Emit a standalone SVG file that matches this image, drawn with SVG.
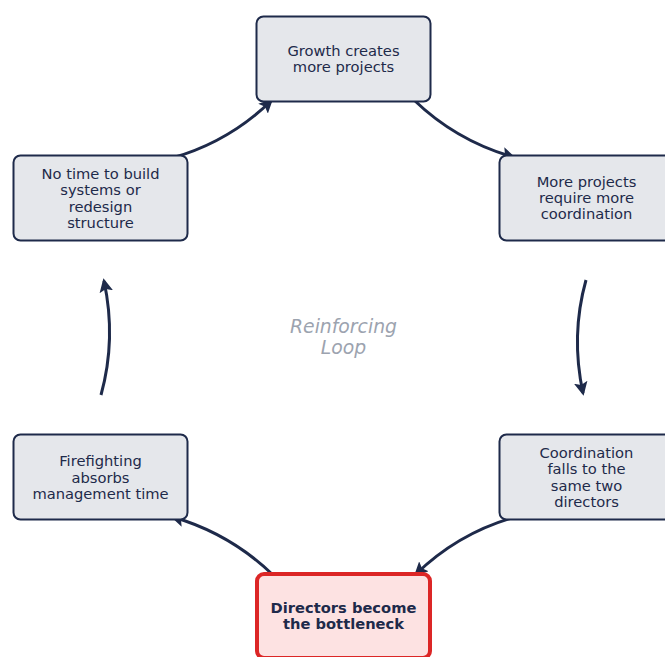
<svg xmlns="http://www.w3.org/2000/svg" width="665" height="657" viewBox="0 0 665 657">
<style>
.box{fill:#e5e7eb;stroke:#1e2a4a;stroke-width:2}
.hot{fill:#fde2e2;stroke:#dc2626;stroke-width:4}
.t{font-family:"DejaVu Sans",sans-serif;font-size:14.7px;fill:#1e2a4a;text-anchor:middle}
.b{font-weight:bold}
.c{font-family:"DejaVu Sans",sans-serif;font-size:18.8px;font-style:italic;fill:#9ca3af;text-anchor:middle}
.e{fill:none;stroke:#1e2a4a;stroke-width:3;marker-end:url(#ah)}
</style>
<defs>
<marker id="ah" viewBox="0 0 10 10" refX="8" refY="5" markerWidth="4.6" markerHeight="4.6" orient="auto" markerUnits="strokeWidth">
<path d="M0,0 L10,5 L0,10 L2,5 z" fill="#1e2a4a"/>
</marker>
</defs>
<rect width="665" height="657" fill="#ffffff"/>
<g id="connectors">
<path class="e" d="M414,100 Q456,140.6 513,157"/>
<path class="e" d="M586,280 Q570.5,335.6 583,393"/>
<path class="e" d="M515,517 Q458.6,532.8 416,574"/>
<path class="e" d="M273,575 Q230.6,533.9 173,517"/>
<path class="e" d="M101,395 Q116.5,338.9 104,281"/>
<path class="e" d="M172,158 Q228.4,142.2 271,101"/>
</g>
<g id="n1">
<rect class="box" x="256.5" y="16.5" width="174" height="85" rx="7"/>
<text class="t" x="343.5" y="56">Growth creates</text>
<text class="t" x="343.5" y="72">more projects</text>
</g>
<g id="n2">
<rect class="box" x="499.5" y="155.5" width="174" height="85" rx="7"/>
<text class="t" x="586.5" y="187">More projects</text>
<text class="t" x="586.5" y="203">require more</text>
<text class="t" x="586.5" y="219">coordination</text>
</g>
<g id="n3">
<rect class="box" x="499.5" y="434.5" width="174" height="85" rx="7"/>
<text class="t" x="586.5" y="457.5">Coordination</text>
<text class="t" x="586.5" y="474">falls to the</text>
<text class="t" x="586.5" y="490.5">same two</text>
<text class="t" x="586.5" y="507">directors</text>
</g>
<g id="n4">
<rect class="hot" x="257" y="574" width="173" height="84" rx="7"/>
<text class="t b" x="343.5" y="613">Directors become</text>
<text class="t b" x="343.5" y="629">the bottleneck</text>
</g>
<g id="n5">
<rect class="box" x="13.5" y="434.5" width="174" height="85" rx="7"/>
<text class="t" x="100.5" y="466">Firefighting</text>
<text class="t" x="100.5" y="482.5">absorbs</text>
<text class="t" x="100.5" y="499">management time</text>
</g>
<g id="n6">
<rect class="box" x="13.5" y="155.5" width="174" height="85" rx="7"/>
<text class="t" x="100.5" y="178.5">No time to build</text>
<text class="t" x="100.5" y="195">systems or</text>
<text class="t" x="100.5" y="211.5">redesign</text>
<text class="t" x="100.5" y="228">structure</text>
</g>
<g id="center">
<text class="c" x="343.5" y="333">Reinforcing</text>
<text class="c" x="343.5" y="354">Loop</text>
</g>
</svg>
